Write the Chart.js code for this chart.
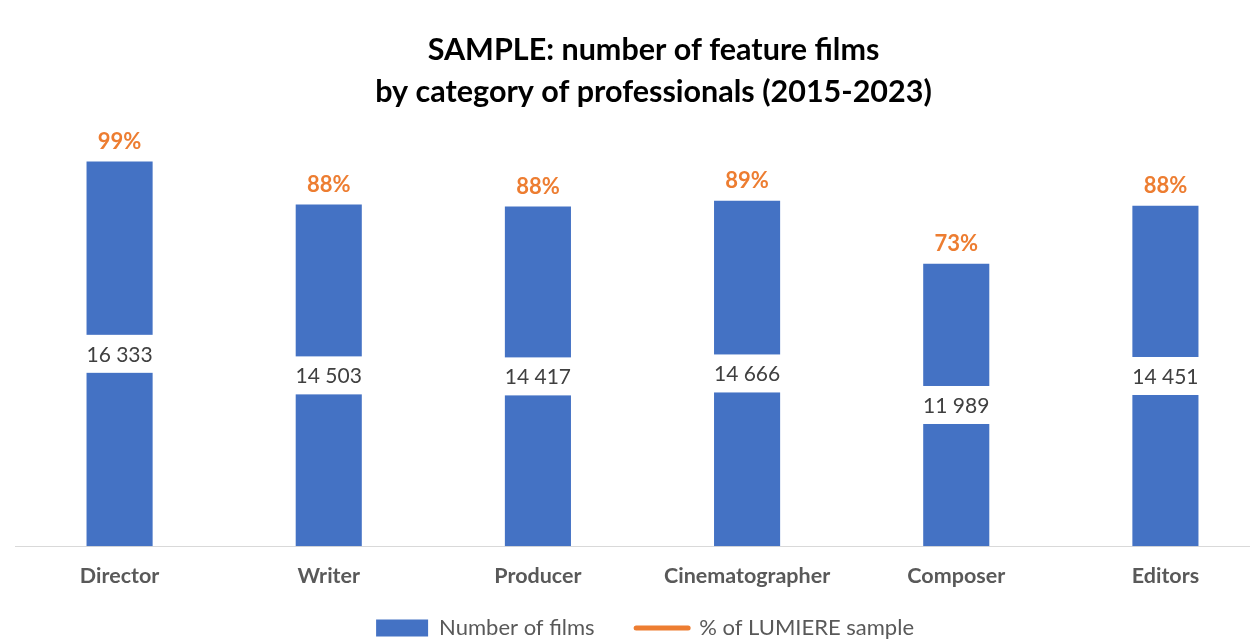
<!DOCTYPE html>
<html>
<head>
<meta charset="utf-8">
<script src="https://cdn.jsdelivr.net/npm/chart.js@4.4.1/dist/chart.umd.min.js"></script>
<style>
  html, body { margin: 0; padding: 0; background: #fff; overflow: hidden; }
  #wrap { width: 1292px; height: 640px; }
</style>
</head>
<body>
<div id="wrap"><canvas id="myChart"></canvas></div>
<script>
const categories = ['Director', 'Writer', 'Producer', 'Cinematographer', 'Composer', 'Editors'];
const filmCounts = [16333, 14503, 14417, 14666, 11989, 14451];
const sampleShare = [99, 88, 88, 89, 73, 88];

const FONT = 'Lato, "Open Sans", sans-serif';

// numbers like "16 333"
const fmt = v => String(v).replace(/\B(?=(\d{3})+(?!\d))/g, ' ');

const barLabels = {
    id: 'barLabels',
    afterDatasetsDraw(chart) {
        const ctx = chart.ctx;
        const bars = chart.getDatasetMeta(0).data;
        ctx.save();
        ctx.textAlign = 'center';
        ctx.textBaseline = 'middle';
        bars.forEach((bar, i) => {
            const mid = (bar.y + bar.base) / 2;
            ctx.fillStyle = '#ffffff';
            ctx.fillRect(bar.x - bar.width / 2 - 3, mid - 19, bar.width + 6, 38);
            ctx.fillStyle = '#404040';
            ctx.font = '21px ' + FONT;
            ctx.fillText(fmt(filmCounts[i]), bar.x, mid + 1);

            ctx.fillStyle = '#ED7D31';
            ctx.font = 'bold 22px ' + FONT;
            ctx.fillText(sampleShare[i] + '%', bar.x, bar.y - 20);
        });
        ctx.restore();
    }
};

const ctx = document.getElementById('myChart');

const myChart = new Chart(ctx, { // eslint-disable-line
    type: 'bar',
    data: {
        labels: categories,
        datasets: [
            {
                label: 'Number of films',
                data: filmCounts,
                backgroundColor: '#4472C4',
                barPercentage: 0.316,
                categoryPercentage: 1,
                yAxisID: 'y',
                order: 2
            },
            {
                type: 'line',
                label: '% of LUMIERE sample',
                data: sampleShare,
                borderColor: '#ED7D31',
                backgroundColor: '#ED7D31',
                borderWidth: 4,
                showLine: false,
                pointRadius: 0,
                yAxisID: 'y1',
                order: 1
            }
        ]
    },
    options: {
        responsive: true,
        maintainAspectRatio: false,
        animation: false,
        layout: { padding: { left: 15, right: 0, top: 0, bottom: -9 } },
        plugins: {
            tooltip: { enabled: false },
            title: {
                display: true,
                text: ['SAMPLE: number of feature films', 'by category of professionals (2015-2023)'],
                color: '#000000',
                font: { family: FONT, size: 30.5, weight: 'bold', lineHeight: 1.38 },
                padding: { top: 29, bottom: 9 }
            },
            legend: {
                position: 'bottom',
                labels: {
                    color: '#595959',
                    font: { family: FONT, size: 22 },
                    usePointStyle: true,
                    pointStyleWidth: 52,
                    boxHeight: 17,
                    padding: 19,
                    generateLabels(chart) {
                        return chart.data.datasets.map((ds, i) => ({
                            text: i === 0 ? ds.label + '    ' : ds.label + '   ',
                            datasetIndex: i,
                            fillStyle: ds.backgroundColor,
                            strokeStyle: ds.borderColor || ds.backgroundColor,
                            lineWidth: i === 1 ? 5 : 0,
                            lineCap: 'round',
                            pointStyle: i === 1 ? 'line' : 'rect',
                            fontColor: '#595959'
                        }));
                    }
                }
            }
        },
        scales: {
            x: {
                grid: { display: false },
                border: { color: '#D9D9D9', width: 1 },
                ticks: {
                    color: '#595959',
                    font: { family: FONT, size: 21.5, weight: 'bold' },
                    padding: 9,
                    maxRotation: 0,
                    autoSkip: false
                }
            },
            y: {
                display: false,
                min: 0,
                max: 18000
            },
            y1: {
                position: 'right',
                display: true,
                min: 0,
                max: 120,
                grid: { display: false },
                border: { display: false },
                ticks: { display: false },
                afterFit(scale) { scale.width = 22; }
            }
        }
    },
    plugins: [barLabels]
});
</script>
</body>
</html>
